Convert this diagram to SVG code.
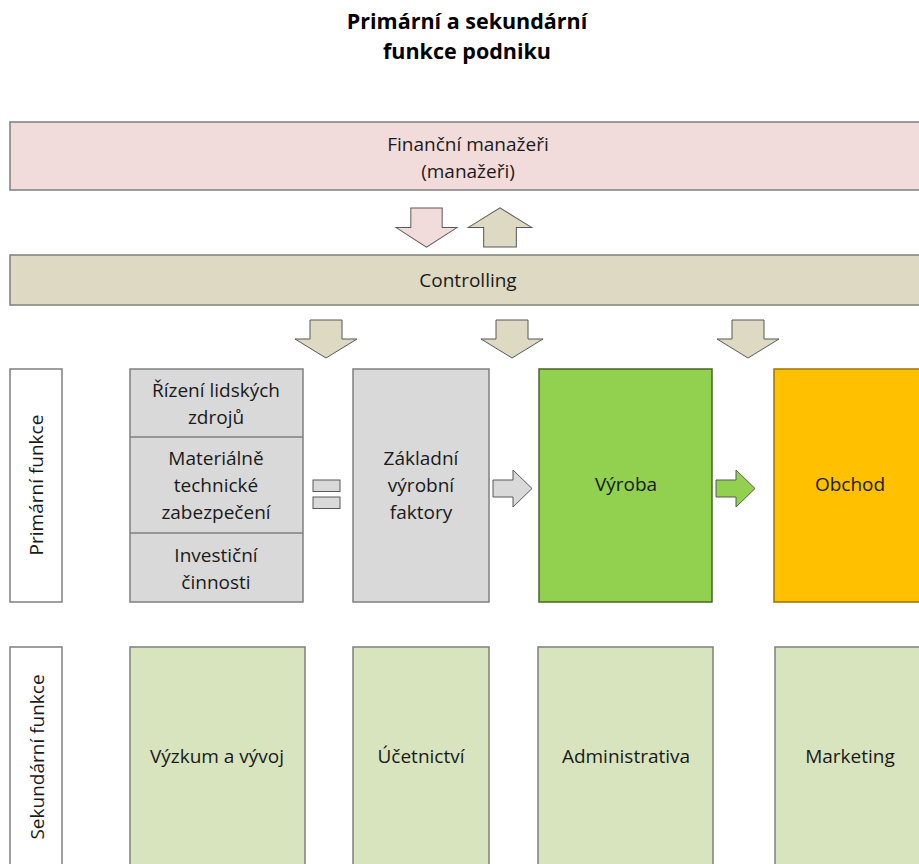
<svg xmlns="http://www.w3.org/2000/svg" width="919" height="864" viewBox="0 0 919 864">
  <style>
    text { font-family: "Open Sans", "Liberation Sans", sans-serif; fill: #1a1a1a; text-anchor: middle; }
    .title { font-size: 21.5px; font-weight: bold; fill: #000; }
    .lbl { font-size: 19px; }
    .box { stroke: #7f7f7f; stroke-width: 1.5; }
    .side { fill: #ffffff; }
    .pink { fill: #f2dcdb; }
    .tan { fill: #ddd9c3; }
    .gray { fill: #d9d9d9; }
    .green { fill: #92d050; stroke: #4f6228; }
    .orange { fill: #ffc000; stroke: #9c7400; }
    .pale { fill: #d7e4bd; }
    .arrow { stroke: #595959; stroke-width: 1; stroke-linejoin: miter; }
  </style>
  <defs>
    <!-- block arrow pointing down, origin at shaft top centre -->
    <polygon id="downArrow" points="-16,0 16,0 16,19 31,19 0,38 -31,19 -16,19"/>
    <!-- block arrow pointing right, origin at shaft left, vertical centre -->
    <polygon id="rightArrow" points="0,-8.5 20,-8.5 20,-18.5 39,0 20,18.5 20,8.5 0,8.5"/>
  </defs>

  <rect width="919" height="864" fill="#ffffff"/>

  <g id="title">
    <text class="title" x="467" y="29">Primární a sekundární</text>
    <text class="title" x="467" y="59">funkce podniku</text>
  </g>

  <g id="financni-manazeri">
    <rect class="box pink" x="10" y="122" width="930" height="68"/>
    <text class="lbl" x="468" y="151">Finanční manažeři</text>
    <text class="lbl" x="468" y="178">(manažeři)</text>
  </g>

  <g id="controlling">
    <rect class="box tan" x="10" y="255" width="930" height="50"/>
    <text class="lbl" x="468" y="287">Controlling</text>
  </g>

  <g id="primarni-funkce">
    <rect class="box side" x="10" y="369" width="52" height="233"/>
    <text class="lbl" transform="translate(43,485) rotate(-90)">Primární funkce</text>
  </g>

  <g id="podpurne-cinnosti">
    <rect class="box gray" x="130" y="369" width="173" height="233"/>
    <line class="box" x1="130" y1="437" x2="303" y2="437"/>
    <line class="box" x1="130" y1="533" x2="303" y2="533"/>
    <text class="lbl" x="216" y="397">Řízení lidských</text>
    <text class="lbl" x="216" y="424">zdrojů</text>
    <text class="lbl" x="216" y="465">Materiálně</text>
    <text class="lbl" x="216" y="492">technické</text>
    <text class="lbl" x="216" y="519">zabezpečení</text>
    <text class="lbl" x="216" y="562">Investiční</text>
    <text class="lbl" x="216" y="589">činnosti</text>
  </g>

  <g id="rovna-se">
    <rect class="arrow gray" x="313" y="480" width="27" height="11.5"/>
    <rect class="arrow gray" x="313" y="497" width="27" height="11.5"/>
  </g>

  <g id="zakladni-vyrobni-faktory">
    <rect class="box gray" x="353" y="369" width="136" height="233"/>
    <text class="lbl" x="421" y="465">Základní</text>
    <text class="lbl" x="421" y="492">výrobní</text>
    <text class="lbl" x="421" y="519">faktory</text>
  </g>

  <g id="vyroba">
    <rect class="box green" x="539" y="369" width="173" height="233"/>
    <text class="lbl" x="626" y="491">Výroba</text>
  </g>

  <g id="obchod">
    <rect class="box orange" x="774" y="369" width="160" height="233"/>
    <text class="lbl" x="850" y="491">Obchod</text>
  </g>

  <g id="sekundarni-funkce">
    <rect class="box side" x="10" y="647" width="52" height="230"/>
    <text class="lbl" transform="translate(44,757) rotate(-90)">Sekundární funkce</text>
  </g>

  <g id="vyzkum-a-vyvoj">
    <rect class="box pale" x="130" y="647" width="175" height="230"/>
    <text class="lbl" x="217" y="763">Výzkum a vývoj</text>
  </g>

  <g id="ucetnictvi">
    <rect class="box pale" x="353" y="647" width="136" height="230"/>
    <text class="lbl" x="421" y="763">Účetnictví</text>
  </g>

  <g id="administrativa">
    <rect class="box pale" x="538" y="647" width="175" height="230"/>
    <text class="lbl" x="626" y="763">Administrativa</text>
  </g>

  <g id="marketing">
    <rect class="box pale" x="775" y="647" width="160" height="230"/>
    <text class="lbl" x="850" y="763">Marketing</text>
  </g>

  <g id="connectors">
    <!-- between management and controlling -->
    <use href="#downArrow" class="arrow pink" transform="translate(426.5,208) scale(0.98,1.03)"/>
    <use href="#downArrow" class="arrow tan" transform="translate(500,247) scale(1.02,-1.03)"/>
    <!-- controlling down to the primary functions -->
    <use href="#downArrow" class="arrow tan" x="326" y="320"/>
    <use href="#downArrow" class="arrow tan" x="512" y="320"/>
    <use href="#downArrow" class="arrow tan" x="748" y="320"/>
    <!-- flow along the primary functions -->
    <use href="#rightArrow" class="arrow gray" x="493" y="488.5"/>
    <use href="#rightArrow" class="arrow green" x="716" y="488.5" style="stroke:#595959"/>
  </g>
</svg>
